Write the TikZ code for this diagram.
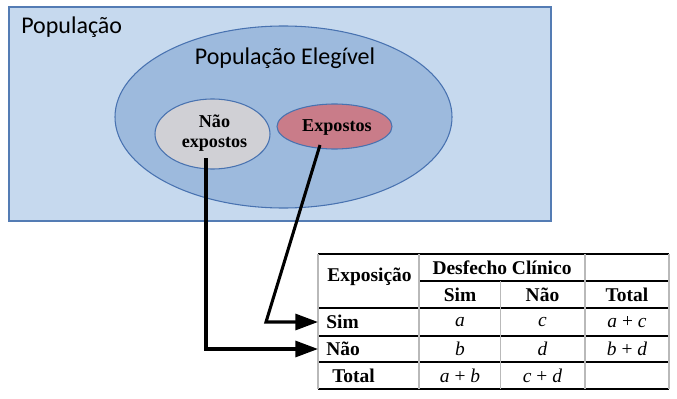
\documentclass[tikz,border=0pt]{standalone}
\usepackage{fontspec}
\setmainfont{Liberation Serif}
\newfontfamily\calfont{Carlito}
\usetikzlibrary{arrows.meta,shapes.geometric}
\definecolor{popfill}{RGB}{198,217,238}
\definecolor{popline}{RGB}{84,124,180}
\definecolor{elfill}{RGB}{157,186,221}
\definecolor{elline}{RGB}{72,114,176}
\definecolor{nefill}{RGB}{208,208,213}
\definecolor{exfill}{RGB}{201,124,137}
\definecolor{vgrid}{RGB}{185,185,185}
\tikzset{
  bigtxt/.style={font=\calfont\fontsize{18}{21}\selectfont},
  ovaltxt/.style={font=\bfseries\fontsize{13.6}{15}\selectfont, align=center},
  oval/.style={ellipse, draw=elline, line width=0.8pt, inner sep=0pt},
  tabtxt/.style={font=\fontsize{14.6}{16}\selectfont, inner sep=0pt},
  tabbold/.style={tabtxt, font=\bfseries\fontsize{14.6}{16}\selectfont},
  hline/.style={draw=black, line width=0.9pt},
  vline/.style={draw=vgrid, line width=0.8pt},
  conn/.style={line width=2.3pt, -{Triangle[length=17pt,width=12pt]}},
}
\begin{document}
\begin{tikzpicture}[x=0.75pt,y=-0.75pt]
\useasboundingbox (0,0) rectangle (677,399);
% population box
\draw[draw=popline, fill=popfill, line width=0.9pt] (9,7) rectangle (551,221);
\node[bigtxt, anchor=west, inner sep=0pt] (pop) at (21,27) {População};
% eligible population
\draw[draw=elline, fill=elfill, line width=0.8pt] (283.5,117) ellipse [x radius=168.5, y radius=91];
\node[bigtxt, inner sep=0pt] (eleg) at (285,58) {População Elegível};
% sub groups
\node[oval, fill=nefill, minimum width=86.25pt, minimum height=52.5pt] (ne) at (212.5,134) {};
\node[ovaltxt] (netxt) at (214.5,133) {Não\\expostos};
\node[oval, fill=exfill, minimum width=86.25pt, minimum height=33.75pt] (ex) at (334.5,126.5) {};
\node[ovaltxt] (extxt) at (337,127) {Expostos};
% table grid
\draw[hline] (318,254) -- (669,254);
\draw[hline] (419,281) -- (669,281);
\draw[hline] (318,308) -- (669,308);
\draw[hline] (318,336) -- (669,336);
\draw[hline] (318,362) -- (669,362);
\draw[hline] (318,389) -- (669,389);
\draw[vline] (318,254) -- (318,389);
\draw[vline] (419,254) -- (419,389);
\draw[vline] (500.5,281) -- (500.5,389);
\draw[vline] (585,254) -- (585,389);
\draw[vline] (669,254) -- (669,389);
% table texts
\node[tabbold] (hexp) at (369.5,277) {Exposição};
\node[tabbold] (hdes) at (502,268) {Desfecho Clínico};
\node[tabbold] (hsim) at (460,295) {Sim};
\node[tabbold] (hnao) at (542.5,295) {Não};
\node[tabbold] (htot) at (627,295) {Total};
\node[tabbold, anchor=west, inner xsep=6pt] (rs) at (318,322) {Sim};
\node[tabbold, anchor=west, inner xsep=6pt] (rn) at (318,349) {Não};
\node[tabbold, anchor=west] (rt) at (332,376) {Total};
\node[tabtxt] (ca) at (460,322) {\itshape a};
\node[tabtxt] (cc) at (542.5,322) {\itshape c};
\node[tabtxt] (cac) at (627,322) {\itshape a\upshape{} + \itshape c};
\node[tabtxt] (cb) at (460,349) {\itshape b};
\node[tabtxt] (cd) at (542.5,349) {\itshape d};
\node[tabtxt] (cbd) at (627,349) {\itshape b\upshape{} + \itshape d};
\node[tabtxt] (cab) at (460,376) {\itshape a\upshape{} + \itshape b};
\node[tabtxt] (ccd) at (542.5,376) {\itshape c\upshape{} + \itshape d};
% connectors
\coordinate (s1) at (206,158);
\coordinate (s2) at (320,145);
\coordinate (b2) at (266,320);
\draw[conn] (s1) |- (rn.west);
\draw[conn] (s2) -- (b2 |- rs.west) -- (rs.west);
\end{tikzpicture}
\end{document}
